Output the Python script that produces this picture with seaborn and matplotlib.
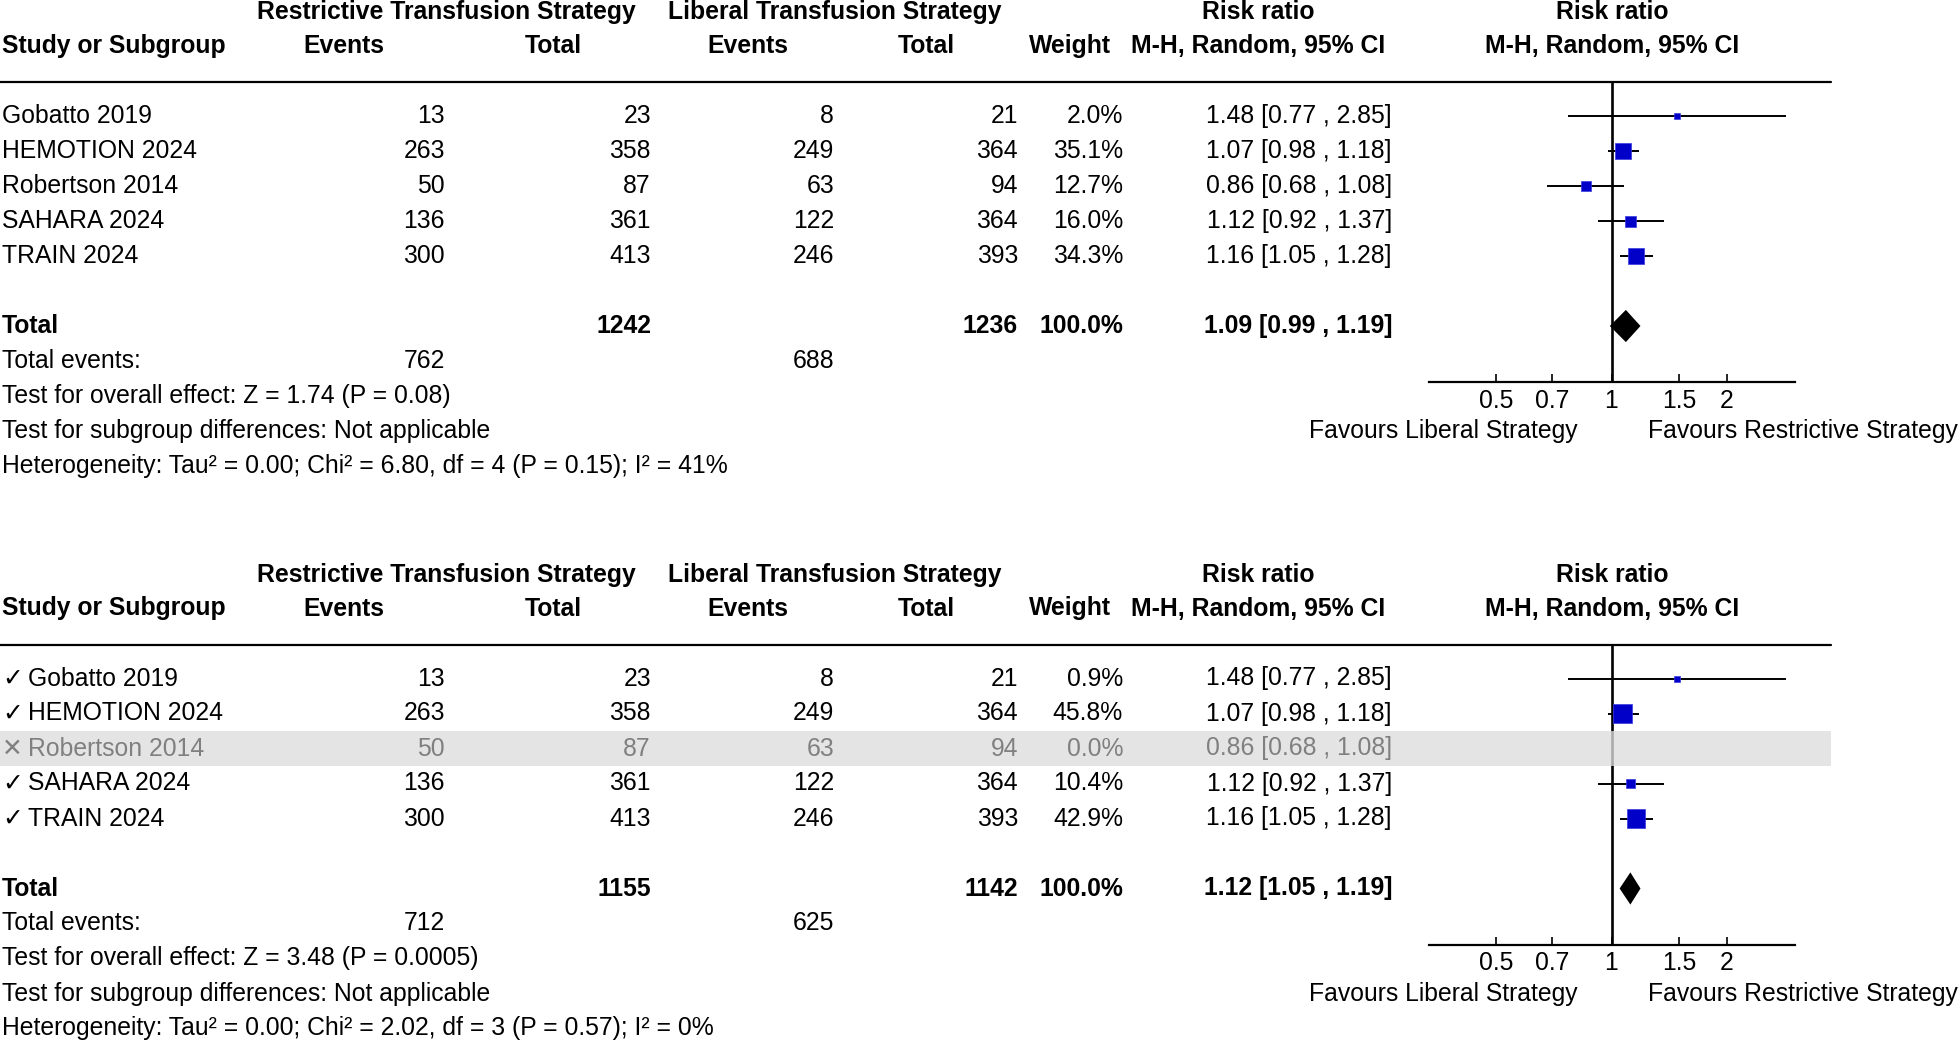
import matplotlib

matplotlib.use("Agg")

import matplotlib.pyplot as plt
import numpy as np
import pandas as pd
import seaborn as sns

# ---- data ------------------------------------------------------------------
studies = ["Gobatto 2019", "HEMOTION 2024", "Robertson 2014", "SAHARA 2024", "TRAIN 2024"]
restrictive_events = [13, 263, 50, 136, 300]
restrictive_total = [23, 358, 87, 361, 413]
liberal_events = [8, 249, 63, 122, 246]
liberal_total = [21, 364, 94, 364, 393]
risk_ratio = [1.48, 1.07, 0.86, 1.12, 1.16]
ci_low = [0.77, 0.98, 0.68, 0.92, 1.05]
ci_high = [2.85, 1.18, 1.08, 1.37, 1.28]

weights_all = [2.0, 35.1, 12.7, 16.0, 34.3]
weights_sens = [0.9, 45.8, 0.0, 10.4, 42.9]
included_sens = [True, True, False, True, True]

pooled_all = [1.09, 0.99, 1.19]
pooled_sens = [1.12, 1.05, 1.19]
totals_all = [1242, 1236]
totals_sens = [1155, 1142]
events_all = [762, 688]
events_sens = [712, 625]

overall_all = "Test for overall effect: Z = 1.74 (P = 0.08)"
overall_sens = "Test for overall effect: Z = 3.48 (P = 0.0005)"
subgroup_text = "Test for subgroup differences: Not applicable"
het_all = "Heterogeneity: Tau² = 0.00; Chi² = 6.80, df = 4 (P = 0.15); I² = 41%"
het_sens = "Heterogeneity: Tau² = 0.00; Chi² = 2.02, df = 3 (P = 0.57); I² = 0%"

tick_values = [0.5, 0.7, 1, 1.5, 2]
tick_labels = ["0.5", "0.7", "1", "1.5", "2"]
axis_range = [1 / 3, 3]

# ---- style -----------------------------------------------------------------
sns.set_theme(style="white")
plt.rcParams["font.family"] = ["Liberation Sans", "DejaVu Sans"]
FS = 17.8
W, H = 1959, 1040
BLUE = "#0000C8"
GREY = "#808080"
BAND = "#E4E4E4"

# column anchors in pixels (right edges unless noted)
X_NAME = 2
X_REV = 445
X_RTOT = 651
X_LEV = 834
X_LTOT = 1018
X_WGT = 1123
X_CI = 1392
ROW0 = 116
ROW_H = 35
AXIS_ROW = 7.6
LINE_ROW = -0.97

fig = plt.figure(figsize=(W / 100, H / 100), dpi=100)


def draw_panel(y0, y1, offset, weights, included, pooled, totals, events,
               overall, het, marks):
    bottom = 1 - y1 / H
    height = (y1 - y0) / H
    k_top = (y0 - ROW0 - offset) / ROW_H
    k_bot = (y1 - ROW0 - offset) / ROW_H

    ax = fig.add_axes([0, bottom, 1, height])
    ax.set_xlim(0, W)
    ax.set_ylim(k_bot, k_top)
    ax.axis("off")

    def txt(x, k, s, ha="right", bold=False, color="black", family=None):
        ax.text(x, k, s, ha=ha, va="center", fontsize=FS, color=color,
                fontweight="bold" if bold else "normal", family=family)

    # headers
    txt(446, -2.97, "Restrictive Transfusion Strategy", ha="center", bold=True)
    txt(835, -2.97, "Liberal Transfusion Strategy", ha="center", bold=True)
    txt(1258, -2.97, "Risk ratio", ha="center", bold=True)
    txt(1612, -2.97, "Risk ratio", ha="center", bold=True)
    txt(X_NAME, -2, "Study or Subgroup", ha="left", bold=True)
    txt(344, -2, "Events", ha="center", bold=True)
    txt(553, -2, "Total", ha="center", bold=True)
    txt(748, -2, "Events", ha="center", bold=True)
    txt(926, -2, "Total", ha="center", bold=True)
    txt(1070, -2, "Weight", ha="center", bold=True)
    txt(1258, -2, "M-H, Random, 95% CI", ha="center", bold=True)
    txt(1612, -2, "M-H, Random, 95% CI", ha="center", bold=True)
    ax.plot([0, 1831], [LINE_ROW, LINE_ROW], color="black", lw=1.6)

    # study rows
    for i, name in enumerate(studies):
        color = "black" if included[i] else GREY
        if not included[i]:
            ax.axhspan(i - 0.5, i + 0.5, xmin=0, xmax=1831 / W, color=BAND, lw=0, zorder=0)
        if marks is None:
            txt(X_NAME, i, name, ha="left", color=color)
        else:
            txt(X_NAME, i, marks[i], ha="left", color=color, bold=True,
                family=["DejaVu Sans"])
            txt(28, i, name, ha="left", color=color)
        txt(X_REV, i, str(restrictive_events[i]), color=color)
        txt(X_RTOT, i, str(restrictive_total[i]), color=color)
        txt(X_LEV, i, str(liberal_events[i]), color=color)
        txt(X_LTOT, i, str(liberal_total[i]), color=color)
        txt(X_WGT, i, f"{weights[i]:.1f}%", color=color)
        txt(X_CI, i, f"{risk_ratio[i]:.2f} [{ci_low[i]:.2f} , {ci_high[i]:.2f}]", color=color)

    # totals
    txt(X_NAME, 6, "Total", ha="left", bold=True)
    txt(X_RTOT, 6, str(totals[0]), bold=True)
    txt(X_LTOT, 6, str(totals[1]), bold=True)
    txt(X_WGT, 6, "100.0%", bold=True)
    txt(X_CI, 6, f"{pooled[0]:.2f} [{pooled[1]:.2f} , {pooled[2]:.2f}]", bold=True)
    txt(X_NAME, 7, "Total events:", ha="left")
    txt(X_REV, 7, str(events[0]))
    txt(X_LEV, 7, str(events[1]))
    txt(X_NAME, 8, overall, ha="left")
    txt(X_NAME, 9, subgroup_text, ha="left")
    txt(X_NAME, 10, het, ha="left")
    txt(1578, 9, "Favours Liberal Strategy", ha="right")
    txt(1648, 9, "Favours Restrictive Strategy", ha="left")

    # forest plot
    fa = fig.add_axes([1428.5 / W, bottom, 366 / W, height])
    fa.patch.set_alpha(0)
    fa.set_xscale("log")

    df = pd.DataFrame({
        "rr": risk_ratio,
        "lo": ci_low,
        "hi": ci_high,
        "row": np.arange(len(studies)),
        "weight": weights,
        "included": included,
    })
    df = df[df["included"]].copy()
    side_px = np.maximum(2.75 * np.sqrt(df["weight"]), 6)
    df["area"] = (side_px * 0.72) ** 2

    fa.hlines(df["row"], df["lo"], df["hi"], color="black", lw=1.4, zorder=2)
    sns.scatterplot(data=df, x="rr", y="row", size="area",
                    sizes=(df["area"].min(), df["area"].max()),
                    marker="s", color=BLUE, edgecolor="#3A3AE0", linewidth=0.5,
                    legend=False, zorder=3, ax=fa)

    est, lo, hi = pooled
    h = 0.46
    fa.fill([lo, est, hi, est], [6, 6 - h, 6, 6 + h], color="black", lw=0, zorder=3)
    fa.vlines(1, LINE_ROW, AXIS_ROW, color="black", lw=1.9, zorder=1)

    for i, inc in enumerate(included):
        if not inc:
            fa.axhspan(i - 0.5, i + 0.5, color=BAND, alpha=0.75, lw=0, zorder=4)

    fa.set_xlim(*axis_range)
    fa.set_ylim(k_bot, k_top)
    fa.set_xlabel("")
    fa.set_ylabel("")
    fa.set_yticks([])
    for side in ["top", "left", "right"]:
        fa.spines[side].set_visible(False)
    fa.spines["bottom"].set_position(("data", AXIS_ROW))
    fa.spines["bottom"].set_color("black")
    fa.spines["bottom"].set_linewidth(1.6)
    fa.set_xticks(tick_values, tick_labels)
    fa.minorticks_off()
    fa.tick_params(axis="x", direction="in", length=6, width=1.2, pad=5,
                   labelsize=FS, colors="black", bottom=True)


draw_panel(0, 520, 0, weights_all, [True] * 5, pooled_all, totals_all,
           events_all, overall_all, het_all, None)
draw_panel(520, 1040, 562.5, weights_sens, included_sens, pooled_sens,
           totals_sens, events_sens, overall_sens, het_sens,
           ["✓" if inc else "✕" for inc in included_sens])

fig.savefig("out.png", dpi=100)
